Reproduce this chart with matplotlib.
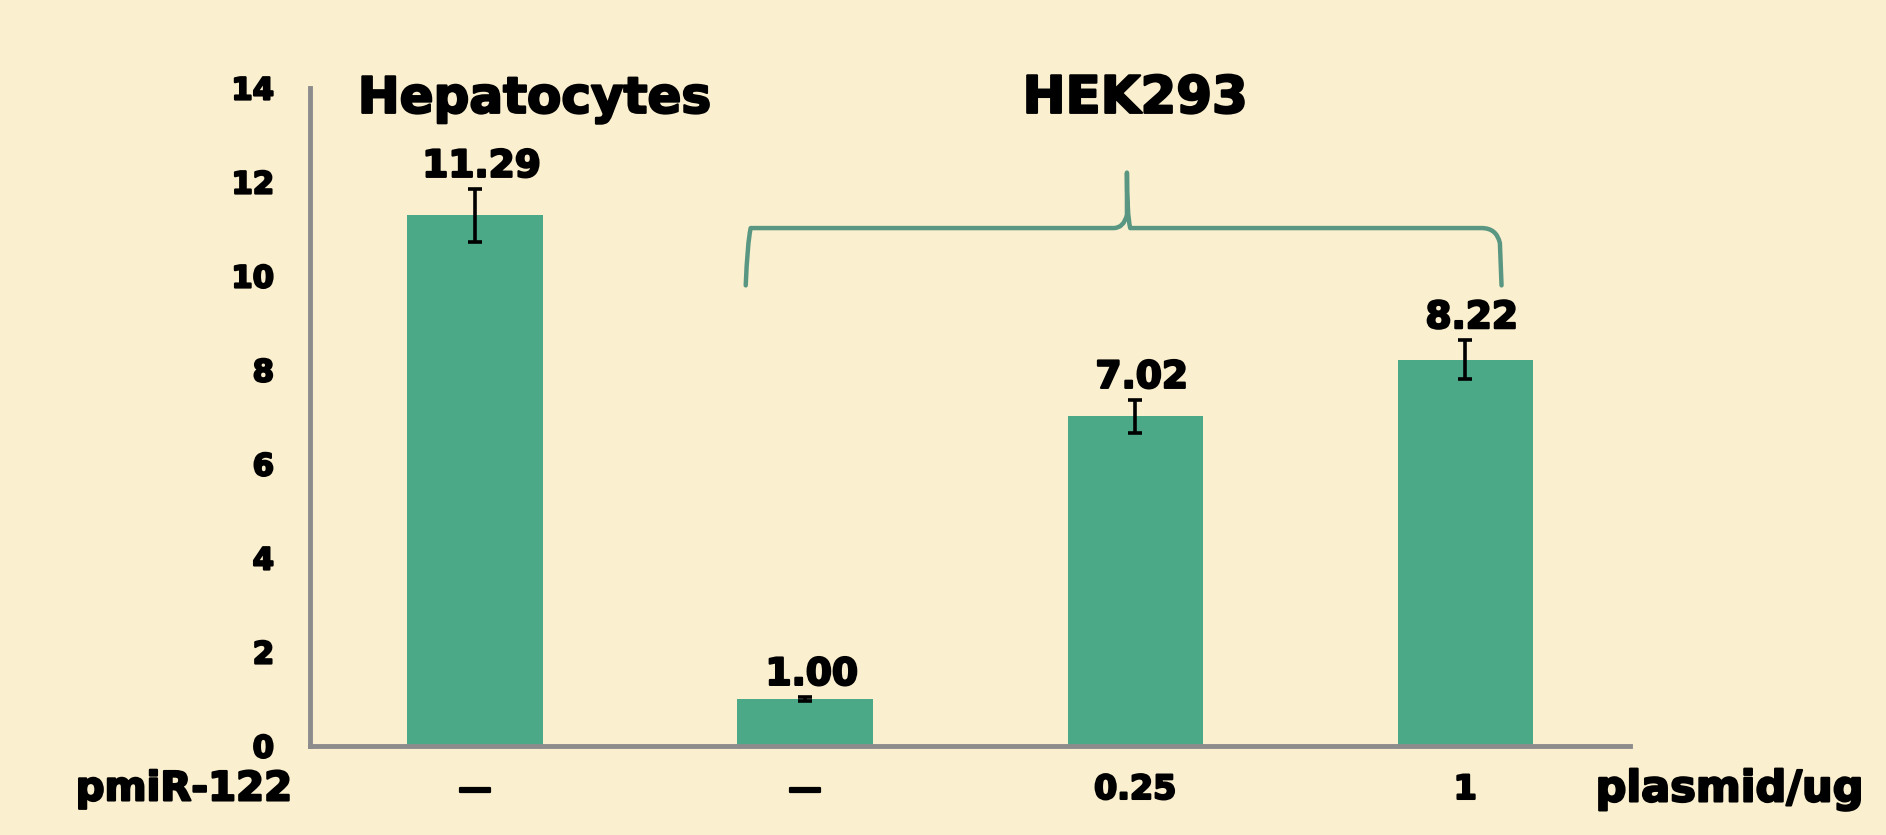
import matplotlib
matplotlib.use("Agg")
import matplotlib.pyplot as plt
from matplotlib.path import Path
from matplotlib.patches import PathPatch
import matplotlib.patheffects as pe
import numpy as np

# ---- data ----
groups = ["Hepatocytes", "HEK293"]
pmir_label = "pmiR-122"
dose_labels = ["\u2014", "\u2014", "0.25", "1"]
unit_label = "plasmid/ug"
values = [11.29, 1.00, 7.02, 8.22]
errors = [0.57, 0.05, 0.35, 0.42]
value_labels = ["11.29", "1.00", "7.02", "8.22"]
yticks = [0, 2, 4, 6, 8, 10, 12, 14]

BG = "#FAEFCE"
BAR = "#4BA987"
AXC = "#8C8C8C"
BRACE = "#5A9783"
FONT = ["DejaVu Sans"]
W = "bold"
HEAVY = [pe.withStroke(linewidth=1.6, foreground="black")]

plt.rcParams["font.family"] = FONT

fig = plt.figure(figsize=(18.86, 8.35), dpi=100, facecolor=BG)
ax = fig.add_axes([0.1644, 0.1066, 0.7, 0.788])
ax.set_facecolor(BG)

x = np.arange(len(values))
ax.bar(x, values, width=0.41, color=BAR, zorder=2)
ax.errorbar(x, values, yerr=errors, fmt="none", ecolor="black",
            elinewidth=2.6, capsize=5, capthick=2.6, zorder=3)
for xi, v, e, lab in zip(x, values, errors, value_labels):
    ax.text(xi + 0.02, v + e + 0.08, lab, ha="center", va="bottom",
            fontsize=27, fontweight=W, color="black", path_effects=HEAVY)

ax.set_xlim(-0.5, 3.5)
ax.set_ylim(0, 14)
ax.set_yticks(yticks)
ax.set_yticklabels([str(t) for t in yticks], fontsize=22, fontweight=W)
for t in ax.get_yticklabels():
    t.set_path_effects(HEAVY)
ax.tick_params(axis="y", length=0, pad=26)
ax.set_xticks([])
for s in ["top", "right"]:
    ax.spines[s].set_visible(False)
for s in ["left", "bottom"]:
    ax.spines[s].set_color(AXC)
    ax.spines[s].set_linewidth(3.5)

# group headers
ax.text(x[0] + 0.18, 13.77, groups[0], ha="center", va="center",
        fontsize=36, fontweight=W, path_effects=HEAVY)
ax.text((x[1] + x[3]) / 2, 13.77, groups[1], ha="center", va="center",
        fontsize=37, fontweight=W, path_effects=HEAVY)

# brace over HEK293 bars
xl, xr = x[1] - 0.18, x[3] + 0.11
xm = (xl + xr) / 2 + 0.01
yb, yh, yp = 9.8, 11.02, 12.2
verts = [(xl, yb), (xl + 0.005, 10.7), (xl + 0.015, yh), (xl + 0.06, yh),
         (xm - 0.04, yh), (xm - 0.01, yh), (xm, 11.3), (xm, yp),
         (xm, 11.3), (xm + 0.01, yh), (xm + 0.04, yh),
         (xr - 0.06, yh), (xr - 0.015, yh), (xr - 0.005, 10.7), (xr, yb)]
codes = [Path.MOVETO, Path.CURVE3, Path.CURVE3, Path.LINETO,
         Path.LINETO, Path.CURVE3, Path.CURVE3, Path.LINETO,
         Path.CURVE3, Path.CURVE3, Path.LINETO,
         Path.LINETO, Path.CURVE3, Path.CURVE3, Path.LINETO]
ax.add_patch(PathPatch(Path(verts, codes), fill=False, edgecolor=BRACE,
                       linewidth=3.2, capstyle="round", joinstyle="round",
                       clip_on=False))

# bottom labels
trans = ax.get_xaxis_transform()
ylab = -0.066
ax.text(-1.21, ylab, pmir_label, transform=trans, ha="left", va="center",
        fontsize=29, fontweight=W, clip_on=False, path_effects=HEAVY)
for xi, lab in zip(x, dose_labels):
    ax.text(xi, ylab, lab, transform=trans, ha="center", va="center",
            fontsize=24, fontweight=W, clip_on=False, path_effects=HEAVY)
ax.text(3.395, ylab, unit_label, transform=trans, ha="left", va="center",
        fontsize=31, fontweight=W, clip_on=False, path_effects=HEAVY)

fig.savefig("out.png", dpi=100, facecolor=BG)
